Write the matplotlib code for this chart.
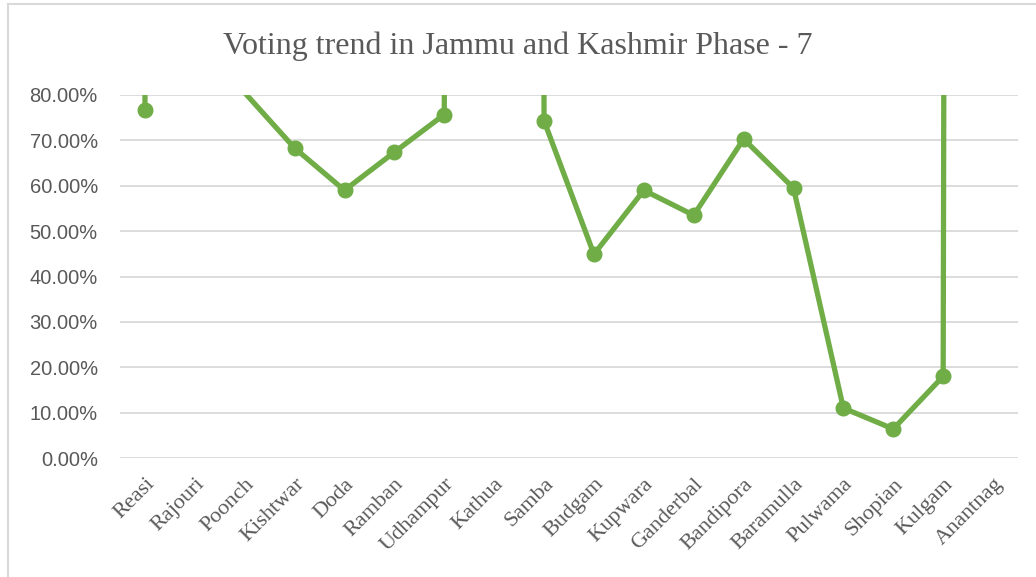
import matplotlib.pyplot as plt
from matplotlib.lines import Line2D
import numpy as np

# districts and turnout (fractions); very large entries run off the top of the chart
districts = ["Reasi", "Rajouri", "Poonch", "Kishtwar", "Doda", "Ramban", "Udhampur",
             "Kathua", "Samba", "Budgam", "Kupwara", "Ganderbal", "Bandipora",
             "Baramulla", "Pulwama", "Shopian", "Kulgam", "Anantnag"]
turnout = [0.767, 50.0, 0.805, 0.683, 0.590, 0.674, 0.757,
           50.0, 0.743, 0.449, 0.590, 0.535, 0.703,
           0.595, 0.110, 0.064, 0.180, 50.0]
yticks = [0.0, 0.1, 0.2, 0.3, 0.4, 0.5, 0.6, 0.7, 0.8]

green = "#70AD47"
grey_text = "#595959"
grid_col = "#D9D9D9"

fig = plt.figure(figsize=(10.36, 5.77), dpi=100)
ax = fig.add_axes([120 / 1036, 1 - 458 / 577, 898 / 1036, 363 / 577])

x = np.arange(len(districts))
vals = np.array(turnout)
# markers only where the point lies inside the value axis
show = list(vals <= yticks[-1])
ax.plot(x, vals, color=green, lw=3.8, marker="o", ms=10.5,
        markevery=show, solid_joinstyle="round", zorder=3)

ax.set_xlim(-0.5, len(districts) - 0.5)
ax.set_ylim(yticks[0], yticks[-1])
ax.set_yticks(yticks)
ax.set_yticklabels([f"{v:.2%}" for v in yticks], fontfamily="Liberation Sans",
                   fontsize=14.5, color=grey_text)
ax.set_xticks(x)
ax.set_xticklabels(districts, rotation=45, ha="right", va="top",
                   rotation_mode="anchor", fontfamily="Liberation Serif",
                   fontsize=16, color=grey_text)
ax.tick_params(axis="y", length=0, pad=16)
ax.tick_params(axis="x", length=0, pad=12)
for s in ax.spines.values():
    s.set_visible(False)
ax.yaxis.grid(True, color=grid_col, lw=1.3)
ax.set_axisbelow(True)

fig.text(0.5, 1 - 46 / 577, "Voting trend in Jammu and Kashmir Phase - 7",
         ha="center", va="center", fontfamily="Liberation Serif",
         fontsize=23, color=grey_text)

# chart-area border (top and left visible in the crop)
fig.add_artist(Line2D([8 / 1036, 8 / 1036], [0, 1 - 4 / 577],
                      transform=fig.transFigure, color=grid_col, lw=1.5))
fig.add_artist(Line2D([8 / 1036, 1], [1 - 4 / 577, 1 - 4 / 577],
                      transform=fig.transFigure, color=grid_col, lw=1.5))

fig.savefig("out.png", dpi=100)
